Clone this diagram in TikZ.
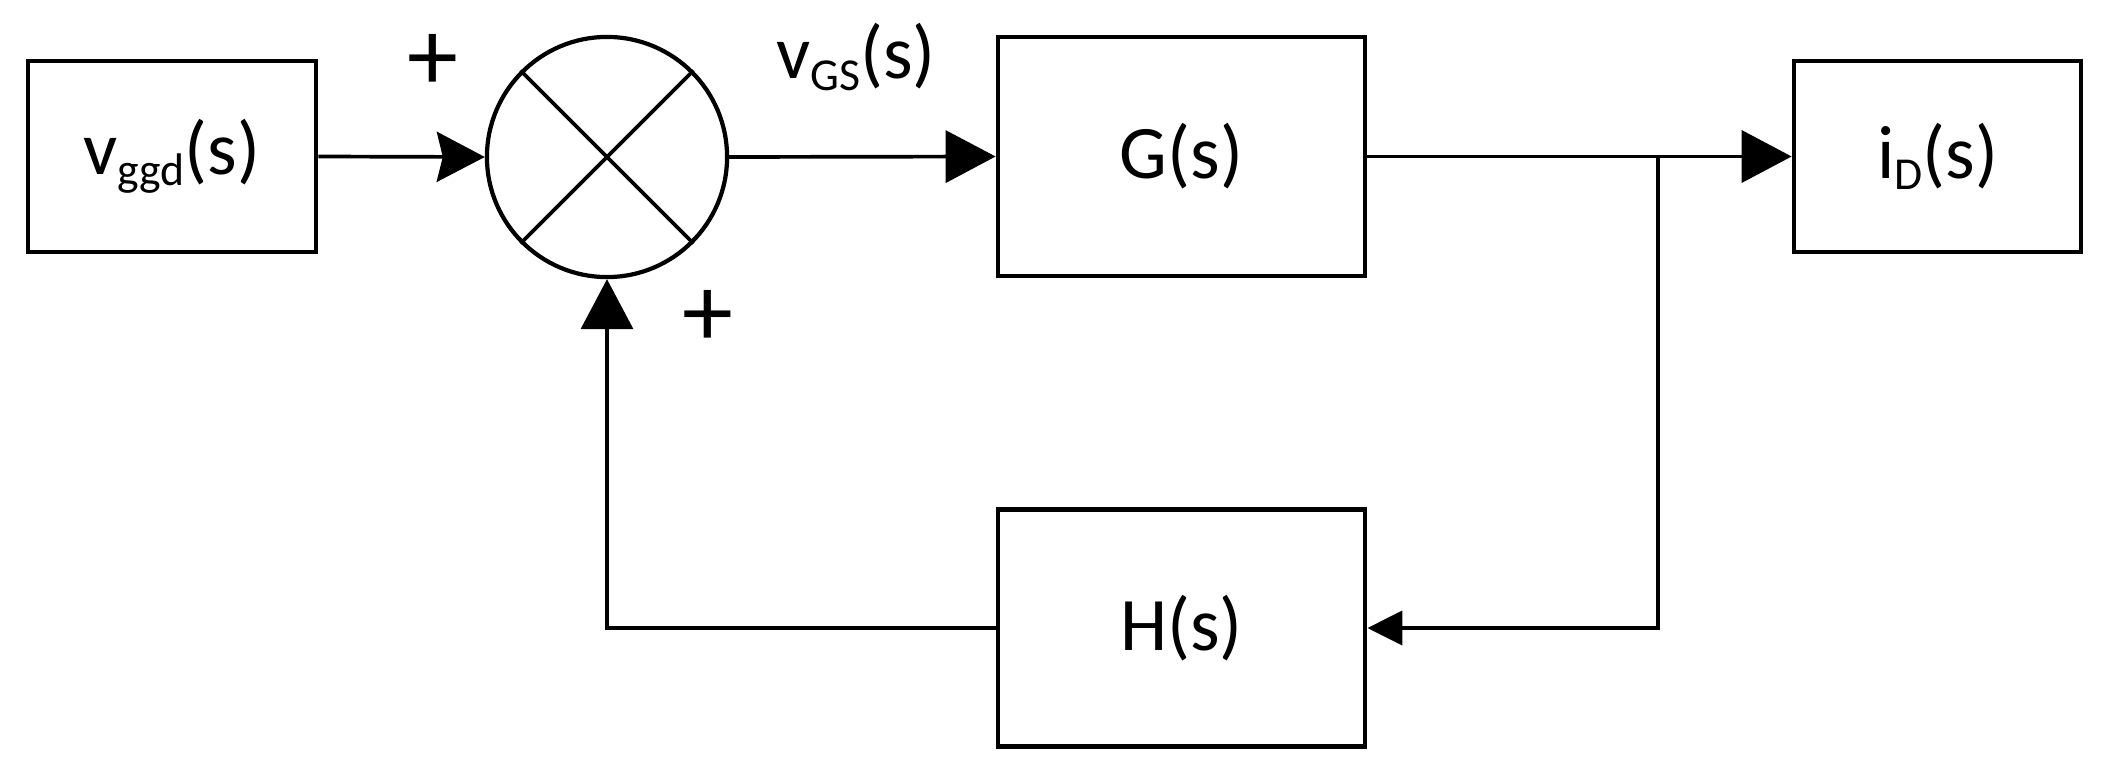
\documentclass[tikz,border=0pt]{standalone}
\usepackage{fontspec}
\setmainfont{Carlito}
\usetikzlibrary{arrows.meta}
\tikzset{
  blk/.style={draw, line width=1.3pt, inner sep=0pt, font=\fontsize{21.5}{24}\selectfont},
  conn/.style={line width=1.05pt},
  bigtip/.style={-{Triangle[length=0.5cm,width=0.52cm]}},
  lefttip/.style={-{Stealth[length=0.48cm,width=0.5cm,inset=0.06cm]}},
  smalltip/.style={-{Triangle[length=0.35cm,width=0.34cm]}},
  sumnode/.style={draw, circle, line width=1.2pt, minimum size=2.4cm, inner sep=0pt},
  sign/.style={font=\fontsize{29}{29}\selectfont, inner sep=0pt},
  lbl/.style={font=\fontsize{21.5}{24}\selectfont, inner sep=0pt}
}
\newcommand{\sbs}[1]{\raisebox{-0.15em}{\fontsize{13}{13}\selectfont #1}}
\begin{document}
\begin{tikzpicture}[x=0.01cm,y=-0.01cm]
\useasboundingbox (0,0) rectangle (2106,782);
\node[blk, minimum width=2.88cm, minimum height=1.91cm] (in) at (172,156.5) {v\sbs{ggd}(s)};
\node[sumnode] (sum) at (607,157) {};
\node[blk, minimum width=3.67cm, minimum height=2.39cm] (G) at (1181.5,156.5) {G(s)};
\node[blk, minimum width=2.87cm, minimum height=1.91cm] (out) at (1937.5,156.5) {i\sbs{D}(s)};
\node[blk, minimum width=3.67cm, minimum height=2.37cm] (H) at (1181.5,628) {H(s)};
\draw[conn] (sum.north west) -- (sum.south east);
\draw[conn] (sum.south west) -- (sum.north east);
\node[sign] (p1) at (433,62) {+};
\node[sign] (p2) at (708,318) {+};
\node[lbl] (vgs) at (856,57) {v\sbs{GS}(s)};
\coordinate (j) at (1658,156.5);
\coordinate (jb) at (1658,628);
\coordinate (lb) at (607,628);
\draw[conn, lefttip] (in.east) -- (sum.west);
\draw[conn, bigtip] (sum.east) -- (G.west);
\draw[conn, bigtip] (G.east) -- (out.west);
\draw[conn, smalltip] (j) -- (jb) -- (H.east);
\draw[conn, bigtip] (H.west) -- (lb) -- (sum.south);
\end{tikzpicture}
\end{document}
